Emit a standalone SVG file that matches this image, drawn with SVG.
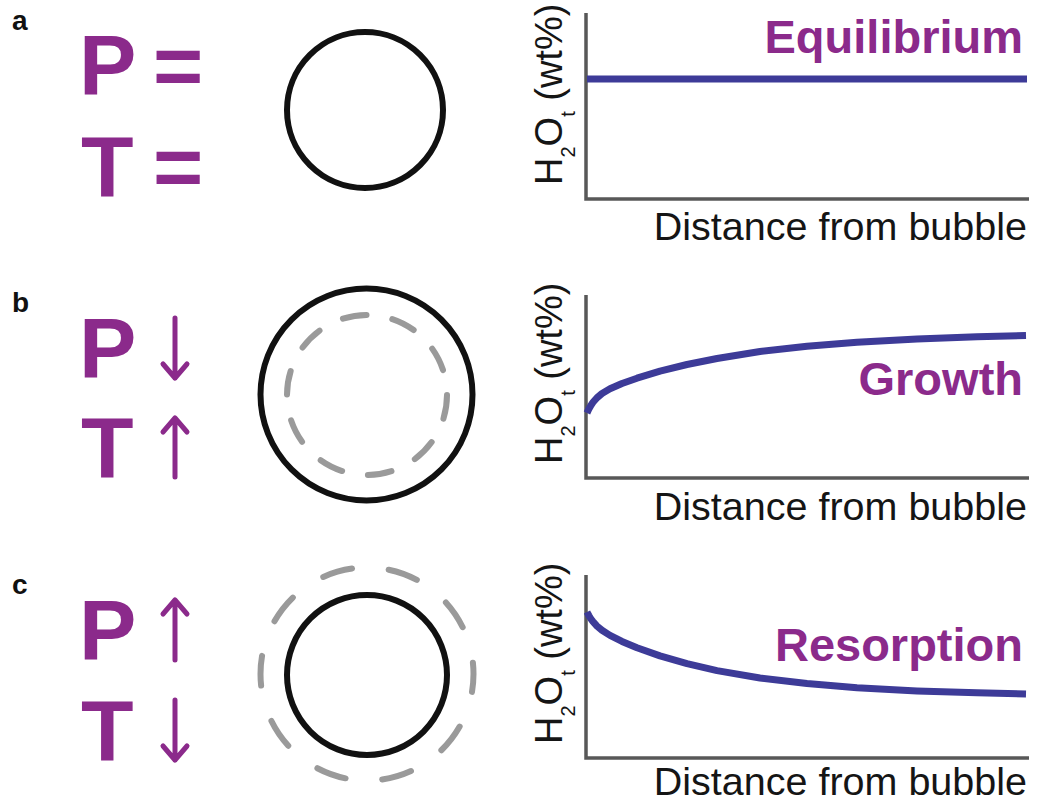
<svg xmlns="http://www.w3.org/2000/svg" width="1039" height="805" viewBox="0 0 1039 805">
<style>
.lbl{font-family:"Liberation Sans",Arial,sans-serif;font-weight:bold;font-size:28px;fill:#111}
.big{font-family:"Liberation Sans",Arial,sans-serif;font-weight:bold;font-size:86px;fill:#8b2a8b}
.state{font-family:"Liberation Sans",Arial,sans-serif;font-weight:bold;font-size:47px;fill:#8b2a8b}
.xl{font-family:"Liberation Sans",Arial,sans-serif;font-size:39.5px;fill:#151515}
.yl{font-family:"Liberation Sans",Arial,sans-serif;font-size:38px;fill:#151515}
.sub{font-size:20px}
.bub{fill:none;stroke:#111;stroke-width:6}
.dash{fill:none;stroke:#9a9a9a;stroke-width:6;stroke-linecap:round}
.axis{fill:none;stroke:#585858;stroke-width:3.5}
.curve{fill:none;stroke:#3d3b98;stroke-width:7;stroke-linejoin:round;stroke-linecap:butt}
.arr{fill:none;stroke:#8b2a8b;stroke-width:5;stroke-linecap:round;stroke-linejoin:round}
</style>
<rect width="1039" height="805" fill="#ffffff"/>

<g id="panel-a">
  <text class="lbl" x="12" y="30">a</text>
  <text class="big" x="79" y="95">P</text>
  <text class="big" x="153" y="95">=</text>
  <text class="big" x="81" y="196">T</text>
  <text class="big" x="153" y="196">=</text>
  <circle class="bub" cx="365" cy="110" r="78" stroke-width="5.5"/>
  <path class="axis" d="M586,13 V199 H1029"/>
  <line class="curve" x1="587" y1="79" x2="1027" y2="79"/>
  <text class="state" x="1023" y="53" text-anchor="end">Equilibrium</text>
  <text class="xl" x="1027" y="240" text-anchor="end">Distance from bubble</text>
  <text class="yl" transform="translate(562,185) rotate(-90)">H<tspan class="sub" dy="13">2</tspan><tspan dy="-13">O</tspan><tspan class="sub" dy="13">t</tspan><tspan dy="-13"> (wt%)</tspan></text>
</g>

<g id="panel-b">
  <text class="lbl" x="12" y="312">b</text>
  <text class="big" x="79" y="378">P</text>
  <text class="big" x="81" y="477">T</text>
  <circle class="bub" cx="366.5" cy="394.5" r="106"/>
  <circle class="dash" cx="367" cy="395" r="80" stroke-dasharray="24 26.27"/>
  <path class="axis" d="M586,295 V478 H1029"/>
  <polyline class="curve" points="587,413 588,410.8 589,408.7 591,405.2 593,402.3 597,397.7 602,393.5 610,388.8 622,383.5 637,378.2 660,371.2 687,364.5 717,358.5 760,351.5 807,346.2 857,342.2 917,339 977,336.8 1026,335.5"/>
  <text class="state" x="1023" y="395" text-anchor="end">Growth</text>
  <text class="xl" x="1027" y="520" text-anchor="end">Distance from bubble</text>
  <text class="yl" transform="translate(562,464) rotate(-90)">H<tspan class="sub" dy="13">2</tspan><tspan dy="-13">O</tspan><tspan class="sub" dy="13">t</tspan><tspan dy="-13"> (wt%)</tspan></text>
</g>

<g id="panel-c">
  <text class="lbl" x="12" y="594">c</text>
  <text class="big" x="79" y="660">P</text>
  <text class="big" x="81" y="760">T</text>
  <circle class="bub" cx="367" cy="675" r="80"/>
  <circle class="dash" cx="367" cy="674" r="106.5" stroke-dasharray="30 36.9" stroke-dashoffset="12"/>
  <path class="axis" d="M586,575 V758 H1029"/>
  <polyline class="curve" points="587,612 588,614 589,615.8 591,619 593,621.7 597,626.1 602,630.3 610,635.4 622,641.4 637,647.7 660,655.9 687,663.7 717,670.6 760,678 807,683.6 857,687.7 917,690.9 977,692.8 1026,693.9"/>
  <text class="state" x="1023" y="661" text-anchor="end">Resorption</text>
  <text class="xl" x="1027" y="795" text-anchor="end">Distance from bubble</text>
  <text class="yl" transform="translate(562,744) rotate(-90)">H<tspan class="sub" dy="13">2</tspan><tspan dy="-13">O</tspan><tspan class="sub" dy="13">t</tspan><tspan dy="-13"> (wt%)</tspan></text>
</g>

<g id="arrows">
  <path class="arr" d="M175,318 V378 M163,364 L175,378 L187,364"/>
  <path class="arr" d="M175,477 V418 M163,432 L175,418 L187,432"/>
  <path class="arr" d="M175,660 V600 M163,614 L175,600 L187,614"/>
  <path class="arr" d="M175,700 V760 M163,746 L175,760 L187,746"/>
</g>
</svg>
